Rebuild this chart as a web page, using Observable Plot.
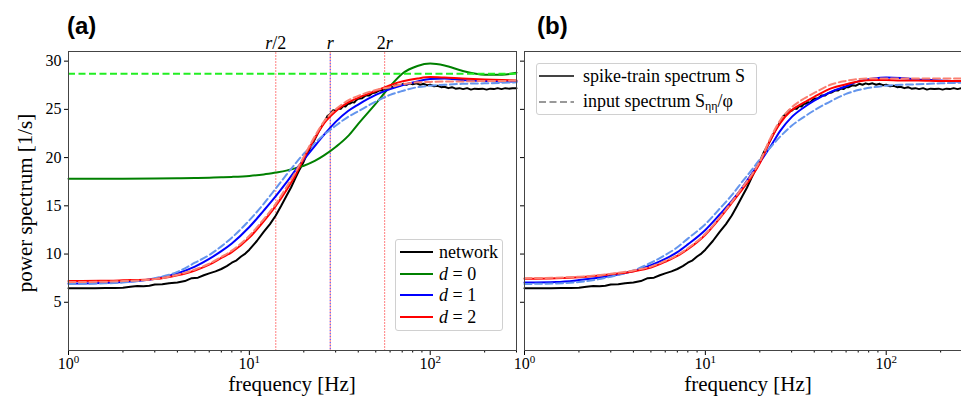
<!DOCTYPE html>
<html><head><meta charset="utf-8">
<script src="https://cdn.jsdelivr.net/npm/d3@7"></script>
<script src="https://cdn.jsdelivr.net/npm/@observablehq/plot@0.6"></script>
<style>
html,body{margin:0;padding:0;background:#fff;overflow:hidden;}
#root{position:relative;width:961px;height:404px;overflow:hidden;font-family:"Liberation Serif","Times New Roman",serif;color:#000;}
.abs{position:absolute;}
.ptitle{font-family:"Liberation Sans",Arial,sans-serif;font-weight:bold;font-size:24px;line-height:1;}
.axlab{font-size:21px;white-space:nowrap;line-height:1;}
.legend{position:absolute;background:rgba(255,255,255,0.85);border:1px solid #d0d0d0;border-radius:3px;box-sizing:border-box;}
.lrow{position:absolute;display:flex;align-items:center;white-space:nowrap;font-size:18px;line-height:1;}
.lrow svg{margin-right:6px;}
svg.plot{position:absolute;top:0;}
svg.plot text{font-family:"Liberation Serif","Times New Roman",serif;}
</style></head><body><div id="root"></div>
<script>
// ---------- data ----------
// network (simulation) spectrum
const netFreq = [1,1.2,1.4,1.6,1.8,2,2.2,2.4,2.6,2.8,
  3,3.3,3.6,4,4.4,4.8,5.2,5.6,6,6.5,
  7,7.5,8,8.5,9,9.5,10,11,12,13,
  14,15,16,17,18,19,20,21,22,23,
  24,25,26,27,28,29,30,31,32,33,34,35,36,37,38,39,
  40,42,44,46,48,50,52,54,56,58,
  60,62,65,68,71,74,77,80,84,88,92,
  96,100,105,110,115,120,126,132,138,145,
  152,160,168,176,185,195,205,215,225,236,
  248,260,272,285,300];
const netPower = [6.45,6.45,6.46,6.47,6.47,6.5,6.6,6.68,6.66,6.72,
  6.85,6.88,6.98,7.05,7.2,7.5,7.55,7.8,8.0,8.2,
  8.45,8.75,9.1,9.35,9.75,10.05,10.45,11.35,12.3,13.1,
  14.0,15.0,16.0,16.9,17.9,18.8,19.6,20.5,21.2,21.9,
  22.6,23.2,23.7,24.3,24.5,24.9,24.85,25.1,25.05,25.35,25.3,25.55,25.6,25.75,25.7,25.95,
  26.1,26.15,26.45,26.45,26.7,26.75,26.95,26.95,27.15,27.1,
  27.3,27.3,27.5,27.45,27.65,27.55,27.7,27.6,27.7,27.55,27.65,
  27.5,27.55,27.4,27.45,27.3,27.35,27.2,27.3,27.15,27.2,
  27.1,27.2,27.05,27.15,27.1,27.15,27.05,27.15,27.1,27.2,
  27.1,27.2,27.15,27.2,27.2];

// theory curves
const freq = [1,1.5,2,3,4,5,6,7,8,10,12,14,16,18,20,23,26,30,35,40,50,60,70,85,100,120,150,200,250,300];
// panel (a)
const aD0    = [17.8,17.8,17.8,17.82,17.85,17.88,17.92,17.96,18.0,18.1,18.25,18.45,18.65,18.9,19.15,19.65,20.25,21.1,22.2,23.5,25.6,27.4,28.7,29.5,29.75,29.55,29.0,28.6,28.6,28.8];
const aD1    = [6.95,7.0,7.1,7.45,8.0,8.7,9.5,10.3,11.1,12.8,14.5,16.0,17.4,18.7,19.8,21.2,22.4,23.7,24.8,25.5,26.5,27.1,27.5,27.9,28.15,28.2,28.05,27.95,27.9,27.9];
const aD1in  = [6.9,6.95,7.05,7.5,8.15,9.1,9.9,10.8,11.7,13.5,15.2,16.8,18.2,19.4,20.4,21.5,22.4,23.3,24.2,24.8,25.8,26.5,26.9,27.3,27.45,27.55,27.65,27.7,27.75,27.8];
const aD2    = [7.2,7.22,7.28,7.4,7.8,8.3,8.9,9.6,10.2,11.7,13.4,15.0,16.6,18.2,19.9,22.0,23.6,24.8,25.7,26.2,26.9,27.5,27.9,28.2,28.35,28.3,28.2,28.1,28.05,28.0];
const aD2in  = [7.1,7.12,7.2,7.4,7.85,8.4,9.0,9.7,10.35,11.9,13.6,15.2,16.9,18.5,20.1,22.2,23.8,25.0,25.9,26.4,27.0,27.3,27.6,27.8,27.85,27.9,27.9,27.95,27.95,28.0];
const d0Input = 28.7;
// panel (b)
const bD1    = [7.05,7.1,7.3,7.75,8.25,8.85,9.5,10.2,11.0,12.5,14.1,15.5,16.9,18.3,19.5,21.2,22.8,24.2,25.2,25.9,26.85,27.4,27.9,28.2,28.3,28.25,28.1,28.0,27.9,27.9];
const bD1in  = [6.9,6.95,7.1,7.65,8.3,9.1,9.9,10.7,11.6,13.1,14.7,16.1,17.5,18.7,19.8,21.1,22.2,23.3,24.2,24.9,25.9,26.6,27.0,27.3,27.45,27.55,27.6,27.7,27.75,27.8];
const bD2    = [7.45,7.5,7.6,7.9,8.2,8.6,9.2,9.8,10.5,12.0,13.7,15.3,16.7,18.0,19.4,21.9,23.6,24.9,25.7,26.3,27.2,27.6,27.9,28.05,28.05,28.0,28.0,27.95,27.95,27.95];
const bD2in  = [7.5,7.55,7.65,7.95,8.3,8.7,9.3,9.9,10.6,12.1,13.8,15.4,16.9,18.2,19.6,22.1,23.9,25.2,26.1,26.7,27.6,27.95,28.15,28.2,28.2,28.2,28.2,28.2,28.2,28.2];

// rate markers
const rLines = [14, 28, 56];
const rLabels = ["r/2", "r", "2r"];
const yTicks = [5,10,15,20,25,30];
const xMajor = [1,10,100];
const xMinor = [2,3,4,5,6,7,8,9,20,30,40,50,60,70,80,90,200,300];
const legendA = [["network","#000"],["d = 0","#008000"],["d = 1","#0000ff"],["d = 2","#ff0000"]];

// ---------- helpers ----------
const SERIF = '"Liberation Serif","Times New Roman",serif';
const rows = (fs, vs) => fs.map((f, i) => ({f, v: vs[i]}));
const net = rows(netFreq, netPower);
const C = {black:"#000", green:"#008000", blue:"#0000ff", red:"#ff0000", lb:"#6495ed", salmon:"#fa8072", lime:"#22ee22"};
const DASH = "7,3.5";
const solid = (data, stroke) => Plot.line(data, {x:"f", y:"v", stroke, strokeWidth:2, curve:"monotone-x"});
const noisy = (data, stroke) => Plot.line(data, {x:"f", y:"v", stroke, strokeWidth:2, curve:"linear"});
const dashed = (data, stroke) => Plot.line(data, {x:"f", y:"v", stroke, strokeWidth:2, strokeDasharray:DASH, curve:"monotone-x"});
const svgNS = "http://www.w3.org/2000/svg";

function base(width, ml, mr) {
  return {
    width, height: 404, marginTop: 51, marginBottom: 54, marginLeft: ml, marginRight: mr,
    x: {type: "log", domain: [1, 300]},
    y: {domain: [0, 31]},
    style: {fontFamily: SERIF, fontSize: "16px", background: "transparent", overflow: "visible"}
  };
}
function axes(showY) {
  return [
    Plot.axisY({ticks: yTicks, tickSize: 4, tickPadding: 3, label: null, fontSize: 16, fontFamily: SERIF,
      tickFormat: showY ? (d => String(d)) : (() => "")}),
    Plot.axisX({ticks: xMinor, tickSize: 2.5, label: null, tickFormat: () => ""}),
    Plot.axisX({ticks: xMajor, tickSize: 5, tickPadding: 2, label: null, fontSize: 16, fontFamily: SERIF,
      tickFormat: d => "10^" + Math.round(Math.log10(d))}),
    Plot.frame({stroke: "#444", strokeWidth: 1})
  ];
}
function fixTicks(svg) {
  svg.querySelectorAll("text").forEach(t => {
    const m = /^10\^(\d)$/.exec(t.textContent);
    if (m) {
      t.textContent = "";
      const a = document.createElementNS(svgNS, "tspan"); a.textContent = "10";
      const b = document.createElementNS(svgNS, "tspan"); b.textContent = m[1];
      b.setAttribute("dy", "-6"); b.setAttribute("font-size", "11");
      t.appendChild(a); t.appendChild(b);
    }
    const r = {"r/2": ["r", "/2"], "r": ["r", ""], "2r": ["2", "r"]}[t.textContent];
    if (r && t.closest('g[aria-label="text"]')) {
      t.textContent = "";
      r.forEach(s => {
        if (!s) return;
        const sp = document.createElementNS(svgNS, "tspan"); sp.textContent = s;
        if (s === "r") sp.setAttribute("font-style", "italic");
        t.appendChild(sp);
      });
    }
  });
}

// ---------- panel (a) ----------
const plotA = Plot.plot({
  ...base(520, 68, 4),
  marks: [
    Plot.ruleX([rLines[1]], {stroke: C.blue, strokeWidth: 1, strokeDasharray: "1,2", strokeOpacity: 0.8}),
    Plot.ruleX(rLines, {stroke: C.red, strokeWidth: 1, strokeDasharray: "1,2", strokeDashoffset: 1.5}),
    Plot.text(rLines, {x: d => d, text: (d, i) => rLabels[i], frameAnchor: "top", lineAnchor: "bottom", dy: -3, fontSize: 18, fontFamily: SERIF}),
    noisy(net, C.black),
    solid(rows(freq, aD0), C.green),
    Plot.ruleY([d0Input], {stroke: C.lime, strokeWidth: 2, strokeDasharray: DASH}),
    solid(rows(freq, aD1), C.blue),
    dashed(rows(freq, aD1in), C.lb),
    solid(rows(freq, aD2), C.red),
    dashed(rows(freq, aD2in), C.salmon),
    ...axes(true)
  ]
});
// ---------- panel (b) ----------
const plotB = Plot.plot({
  ...base(460, 4, 8),
  marks: [
    noisy(net, C.black),
    solid(rows(freq, bD1), C.blue),
    dashed(rows(freq, bD1in), C.lb),
    solid(rows(freq, bD2), C.red),
    dashed(rows(freq, bD2in), C.salmon),
    ...axes(false)
  ]
});

const root = document.getElementById("root");
[[plotA, 0], [plotB, 520]].forEach(([p, left]) => {
  p.classList.add("plot"); p.style.left = left + "px";
  fixTicks(p);
  root.appendChild(p);
});

function addDiv(html, cls, style) {
  const d = document.createElement("div");
  d.className = cls; d.innerHTML = html;
  Object.assign(d.style, style);
  root.appendChild(d); return d;
}
addDiv("(a)", "abs ptitle", {left: "67px", top: "14px"});
addDiv("(b)", "abs ptitle", {left: "537px", top: "14px"});
addDiv("power spectrum [1/s]", "abs axlab", {left: "25px", top: "203px", transform: "translate(-50%,-50%) rotate(-90deg)"});
addDiv("frequency [Hz]", "abs axlab", {left: "292px", top: "384px", transform: "translate(-50%,-50%)"});
addDiv("frequency [Hz]", "abs axlab", {left: "748px", top: "384px", transform: "translate(-50%,-50%)"});

const lineSvg = (stroke, dash, w) =>
  `<svg width="${w}" height="6"><line x1="0" y1="3" x2="${w}" y2="3" stroke="${stroke}" stroke-width="2" ${dash ? `stroke-dasharray="${dash}"` : ""}/></svg>`;
const legA = addDiv("", "legend", {left: "395px", top: "239px", width: "108px", height: "92px"});
legendA.forEach(([lab, col], i) => {
  const txt = lab.startsWith("d") ? `<i>d</i>${lab.slice(1)}` : lab;
  const r = document.createElement("div");
  r.className = "lrow";
  r.style.left = "4px"; r.style.top = (3 + i * 21.7) + "px";
  r.innerHTML = lineSvg(col, null, 33) + `<span>${txt}</span>`;
  legA.appendChild(r);
});
const legB = addDiv("", "legend", {left: "536px", top: "63px", width: "221px", height: "52px"});
[[lineSvg("#444", null, 35), "spike-train spectrum S"],
 [lineSvg("#999", DASH, 35), "input spectrum S<sub style='font-size:12px;vertical-align:-3px'>ηη</sub>/φ"]]
 .forEach(([s, t], i) => {
  const r = document.createElement("div");
  r.className = "lrow";
  r.style.left = "2px"; r.style.top = (3 + i * 25) + "px";
  r.innerHTML = s + `<span style="margin-left:3px">${t}</span>`;
  legB.appendChild(r);
});
</script></body></html>
